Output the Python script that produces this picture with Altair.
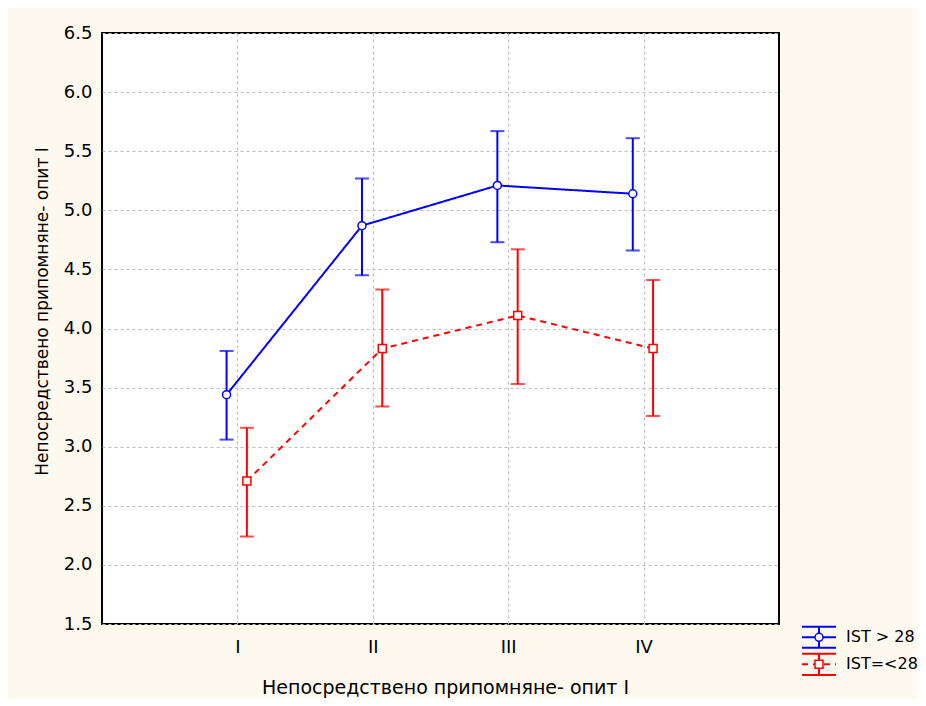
import altair as alt
import pandas as pd

categories = ["I", "II", "III", "IV"]
groups = ["IST > 28", "IST=<28"]
colors = ["#0000FF", "#FF0000"]
shapes = ["circle", "square"]
dashes = [[1, 0], [6, 5]]
offsets = [-0.08, 0.07]

blue_mean = [3.44, 4.87, 5.21, 5.14]
blue_lo = [3.06, 4.45, 4.73, 4.66]
blue_hi = [3.81, 5.27, 5.67, 5.61]

red_mean = [2.71, 3.83, 4.11, 3.83]
red_lo = [2.24, 3.34, 3.53, 3.26]
red_hi = [3.16, 4.33, 4.67, 4.41]

y_ticks = [1.5, 2.0, 2.5, 3.0, 3.5, 4.0, 4.5, 5.0, 5.5, 6.0, 6.5]

x_title = "Непосредствено припомняне- опит I"
y_title = "Непосредствено припомняне- опит I"

FONT = "DejaVu Sans"

rows = []
for g, off, means, los, his in [
    (groups[0], offsets[0], blue_mean, blue_lo, blue_hi),
    (groups[1], offsets[1], red_mean, red_lo, red_hi),
]:
    for i, c in enumerate(categories):
        rows.append({"group": g, "cat": c, "xpos": i + 1 + off,
                     "mean": means[i], "lo": los[i], "hi": his[i]})
df = pd.DataFrame(rows)

label_expr = "[''," + ",".join(f"'{c}'" for c in categories) + "][datum.value]"

x_enc = alt.X("xpos:Q",
              scale=alt.Scale(domain=[0, len(categories) + 1], nice=False, zero=False),
              axis=alt.Axis(values=list(range(1, len(categories) + 1)), labelExpr=label_expr,
                            title=x_title, titleX=343, titleY=69,
                            titleBaseline="alphabetic", labelPadding=14,
                            labelFontSize=18, titleFontSize=19))
y_enc = alt.Y("mean:Q",
              scale=alt.Scale(domain=[1.5, 6.5], nice=False, zero=False),
              axis=alt.Axis(values=y_ticks, format=".1f", title=y_title,
                            titleX=-55, titleY=278, titleBaseline="alphabetic",
                            labelPadding=10, labelFontSize=18, titleFontSize=17))

color_scale = alt.Scale(domain=groups, range=colors)

base = alt.Chart(df)

lines = base.mark_line(strokeWidth=2).encode(
    x=x_enc, y=y_enc,
    color=alt.Color("group:N", scale=color_scale, legend=None),
    strokeDash=alt.StrokeDash("group:N", scale=alt.Scale(domain=groups, range=dashes), legend=None),
    detail="group:N",
)

bars = base.mark_rule(strokeWidth=2).encode(
    x="xpos:Q", y="lo:Q", y2="hi:Q",
    color=alt.Color("group:N", scale=color_scale, legend=None),
)

caps_lo = base.mark_tick(orient="horizontal", size=14, thickness=2).encode(
    x="xpos:Q", y="lo:Q",
    color=alt.Color("group:N", scale=color_scale, legend=None),
)
caps_hi = base.mark_tick(orient="horizontal", size=14, thickness=2).encode(
    x="xpos:Q", y="hi:Q",
    color=alt.Color("group:N", scale=color_scale, legend=None),
)

points = base.mark_point(filled=True, size=64, strokeWidth=1.5, opacity=1).encode(
    x="xpos:Q", y="mean:Q",
    fill=alt.value("white"),
    stroke=alt.Stroke("group:N", scale=color_scale, legend=None),
    shape=alt.Shape("group:N", scale=alt.Scale(domain=groups, range=shapes), legend=None),
)

# custom legend (pixel positions relative to plot area)
one = pd.DataFrame({"a": [0]})
legend_layers = []
leg_rows = [(593.7, 604.3, 614.7), (620.7, 631.3, 642.0)]
for k, g in enumerate(groups):
    top, mid, bot = leg_rows[k]
    c = colors[k]
    for yy in (top, bot):
        legend_layers.append(alt.Chart(one).mark_rule(color=c, strokeWidth=2).encode(
            x=alt.value(700), x2=alt.value(734), y=alt.value(yy)))
    legend_layers.append(alt.Chart(one).mark_rule(color=c, strokeWidth=2, strokeDash=dashes[k]).encode(
        x=alt.value(700), x2=alt.value(734), y=alt.value(mid)))
    legend_layers.append(alt.Chart(one).mark_rule(color=c, strokeWidth=2).encode(
        x=alt.value(717), y=alt.value(top), y2=alt.value(bot)))
    legend_layers.append(alt.Chart(one).mark_point(shape=shapes[k], filled=True, size=64,
                                                   strokeWidth=1.5, opacity=1).encode(
        x=alt.value(717), y=alt.value(mid), fill=alt.value("white"), stroke=alt.value(c)))
    legend_layers.append(alt.Chart(one).mark_text(align="left", baseline="middle", fontSize=16,
                                                  font=FONT, color="black").encode(
        x=alt.value(744), y=alt.value(mid), text=alt.value(g)))

chart = alt.layer(lines, bars, caps_lo, caps_hi, points, *legend_layers).properties(
    width=677, height=591,
    background="#FDF9EF",
    autosize=alt.AutoSizeParams(type="none"),
    padding={"left": 94, "top": 25, "right": 139, "bottom": 74},
).configure_view(
    fill="white", stroke="black", strokeWidth=2,
).configure_axis(
    labelFont=FONT, titleFont=FONT, labelColor="black", titleColor="black",
    titleFontWeight="normal", ticks=False, domain=False,
    grid=True, gridColor="#BDBDBD", gridDash=[3, 3], gridWidth=1,
)

chart.save("out.html", embed_options={"renderer": "svg", "actions": False})
